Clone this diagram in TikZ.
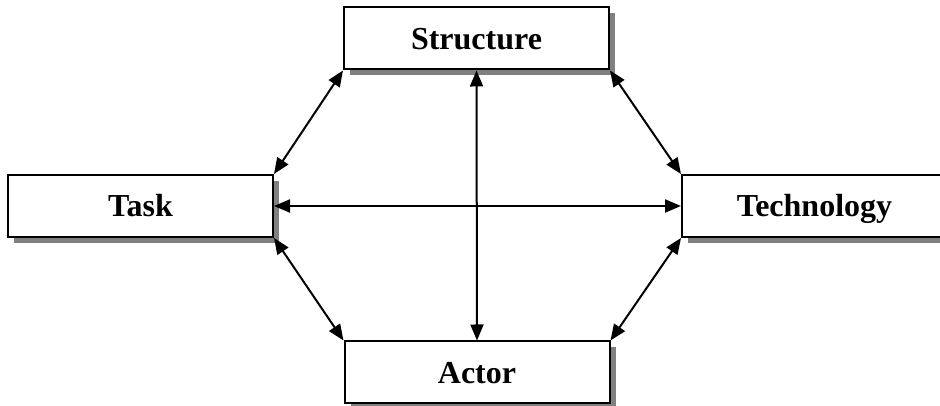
\documentclass[tikz,border=0pt]{standalone}
\usepackage{fontspec}
\setmainfont{Liberation Serif}
\usetikzlibrary{arrows.meta,shadows}
\begin{document}
\begin{tikzpicture}[x=1pt,y=1pt,
  box/.style={draw, line width=2pt, fill=white, minimum width=265pt, minimum height=62pt,
    inner sep=0pt, text height=21.5pt, text depth=0pt, font=\bfseries\fontsize{32}{32}\selectfont,
    drop shadow={shadow xshift=6pt, shadow yshift=-6pt, fill=black!50, opacity=1}},
  link/.style={line width=2pt, {Triangle[length=16pt,width=13pt]}-{Triangle[length=16pt,width=13pt]}}]
\useasboundingbox (0,0) rectangle (940,406);
\clip (0,0) rectangle (940,406);
\node[box] (structure) at (476.5,367.5) {Structure};
\node[box] (task) at (140.5,200) {Task};
\node[box] (technology) at (814.5,200) {Technology};
\node[box] (actor) at (477,33.5) {Actor};
\draw[link] (structure.south west) -- (task.north east);
\draw[link] (structure.south east) -- (technology.north west);
\draw[link] (task.south east) -- (actor.north west);
\draw[link] (technology.south west) -- (actor.north east);
\draw[link] (structure.south) -- (actor.north);
\draw[link] (task.east) -- (technology.west);
\end{tikzpicture}
\end{document}
